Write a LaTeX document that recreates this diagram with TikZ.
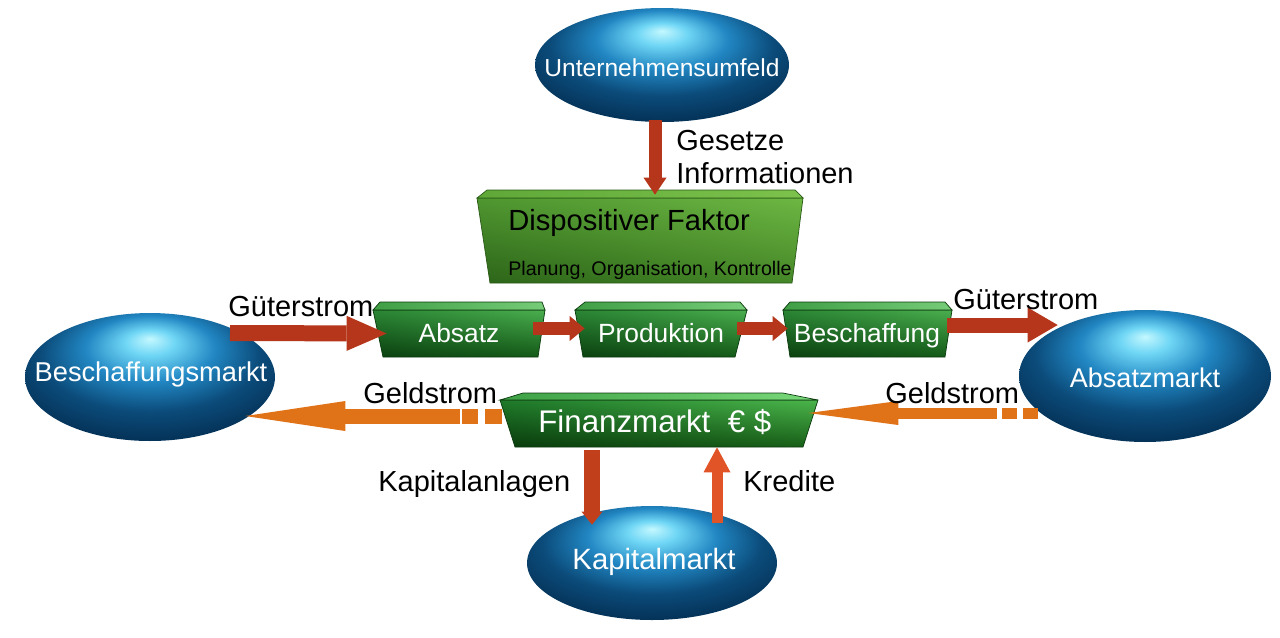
\documentclass[tikz,border=0pt]{standalone}
\usepackage{fontspec}
\setmainfont{Liberation Sans}
\usetikzlibrary{shapes.geometric,arrows.meta,calc,shadings}
\definecolor{hlA}{HTML}{C4F8FF}
\definecolor{hlB}{HTML}{6FD6F5}
\definecolor{hlC}{HTML}{2186C2}
\definecolor{hlD}{HTML}{0B4B7A}
\definecolor{navy}{HTML}{05345A}
\definecolor{dispTL}{HTML}{4F9630}
\definecolor{dispTR}{HTML}{6DB743}
\definecolor{dispBL}{HTML}{2C6418}
\definecolor{dispBR}{HTML}{468828}
\definecolor{dispTopL}{HTML}{5FA838}
\definecolor{dispTopR}{HTML}{7CC24C}
\definecolor{dispEdge}{HTML}{2A5A16}
\definecolor{sbTL}{HTML}{2A8534}
\definecolor{sbTR}{HTML}{4AAE4E}
\definecolor{sbBL}{HTML}{0B4010}
\definecolor{sbBR}{HTML}{145A18}
\definecolor{sbTopL}{HTML}{3F9E45}
\definecolor{sbTopR}{HTML}{76CC78}
\definecolor{sbEdge}{HTML}{0B3A0D}
\definecolor{finTL}{HTML}{1F7A2A}
\definecolor{finTR}{HTML}{4BB54B}
\definecolor{finBL}{HTML}{093A0C}
\definecolor{finBR}{HTML}{186018}
\definecolor{finTopL}{HTML}{3DA045}
\definecolor{finTopR}{HTML}{7AD97A}
\definecolor{redA}{HTML}{B5361A}
\definecolor{redB}{HTML}{C23F1C}
\definecolor{oraA}{HTML}{E07218}
\definecolor{oraB}{HTML}{E05427}
\pgfdeclareradialshading{ballhl}{\pgfpoint{0bp}{15bp}}{color(0bp)=(hlA); color(5bp)=(hlB); color(13bp)=(hlC); color(22bp)=(hlD); color(30bp)=(navy); color(50bp)=(navy)}
\tikzset{
  ell/.style={ellipse, draw=none, shade, shading=ballhl, inner sep=0pt},
  elltext/.style={text=white, font=\fontsize{#1}{18}\selectfont, anchor=base, inner sep=0pt},
  btext/.style={text=white, font=\fontsize{15}{17}\selectfont, anchor=base, inner sep=0pt},
  lbl/.style={font=\fontsize{16.5}{19}\selectfont, inner sep=0pt, anchor=base west},
  hold/.style={inner sep=0pt, draw=none},
  smallface/.style={upper left=sbTL, upper right=sbTR, lower left=sbBL, lower right=sbBR, draw=sbEdge, line width=0.4pt},
  smalltop/.style={left color=sbTopL, right color=sbTopR, draw=sbEdge, line width=0.4pt},
  blk/.style={line width=#1},
}
\begin{document}
\begin{tikzpicture}[x=0.02cm,y=-0.02cm]
\useasboundingbox (0,0) rectangle (1280,637);

% ellipses
\node[ell, minimum width=5.08cm, minimum height=2.28cm] (umf) at (662,65) {};
\node[ell, minimum width=5.0cm, minimum height=2.56cm] (bm) at (150,377) {};
\node[ell, minimum width=5.04cm, minimum height=2.64cm] (am) at (1145,376) {};
\node[ell, minimum width=5.0cm, minimum height=2.28cm] (km) at (652,563) {};

% Dispositiver Faktor box
\shade[upper left=dispTL, upper right=dispTR, lower left=dispBL, lower right=dispBR, draw=dispEdge, line width=0.4pt] (477,198) -- (803,198) -- (792,283) -- (490,283) -- cycle;
\shade[left color=dispTopL, right color=dispTopR, draw=dispEdge, line width=0.4pt] (487,190) -- (795,190) -- (803,198) -- (477,198) -- cycle;
\node[hold, minimum width=6.52cm, minimum height=1.86cm] (disp) at (640,236.5) {};

% small boxes
\shade[smallface] (373,310) -- (545,310) -- (538,357) -- (383,357) -- cycle;
\shade[smalltop] (380,302) -- (542,302) -- (545,310) -- (373,310) -- cycle;
\node[hold, minimum width=3.44cm, minimum height=1.1cm] (abs) at (459,333.5) {};
\shade[smallface] (575,310) -- (747,310) -- (735,357) -- (583,357) -- cycle;
\shade[smalltop] (585,302) -- (740,302) -- (747,310) -- (575,310) -- cycle;
\node[hold, minimum width=3.44cm, minimum height=1.1cm] (prod) at (661,333.5) {};
\shade[smallface] (783,310) -- (952,310) -- (945,357) -- (790,357) -- cycle;
\shade[smalltop] (790,302) -- (945,302) -- (952,310) -- (783,310) -- cycle;
\node[hold, minimum width=3.38cm, minimum height=1.1cm] (besch) at (867.5,333.5) {};

% Finanzmarkt box
\shade[upper left=finTL, upper right=finTR, lower left=finBL, lower right=finBR, draw=sbEdge, line width=0.4pt] (500,400) -- (818,400) -- (803,447) -- (515,447) -- cycle;
\shade[left color=finTopL, right color=finTopR, draw=sbEdge, line width=0.4pt] (523,393) -- (783,393) -- (818,400) -- (500,400) -- cycle;
\node[hold, minimum width=6.36cm, minimum height=1.08cm] (fin) at (659,420) {};

% arrows
\draw[redA, blk=0.26cm, -{Triangle[length=0.34cm,width=0.46cm,line width=0pt]}]
  ($(umf.south)+(-7,-2)$) -- ($(disp.north)+(15,5)$);
\draw[redA, blk=0.32cm, -{Triangle[length=0.8cm,width=0.7cm,line width=0pt]}]
  ($(bm.center)+(80,-44)$) -- ($(abs.west)+(14,0)$);
\draw[redA, blk=0.26cm, -{Triangle[length=0.3cm,width=0.5cm,line width=0pt]}]
  ($(abs.east)+(-12,-5)$) -- ($(prod.west)+(10,-5)$);
\draw[redA, blk=0.26cm, -{Triangle[length=0.3cm,width=0.5cm,line width=0pt]}]
  ($(prod.east)+(-10,-5)$) -- ($(besch.west)+(5,-5)$);
\draw[redA, blk=0.3cm, -{Triangle[length=0.6cm,width=0.7cm,line width=0pt]}]
  ($(besch.east)+(-5,-8.5)$) -- ($(am.west)+(39,-51)$);
\draw[oraA, blk=0.3cm, dash pattern=on 0.34cm off 0.14cm on 0.32cm off 0.04cm on 12cm,
  -{Triangle[length=2cm,width=0.6cm,line width=0pt]}]
  ($(fin.west)+(2,-4)$) -- ($(bm.east)+(-30,39)$);
\draw[oraA, blk=0.22cm, dash pattern=on 0.3cm off 0.12cm on 0.3cm off 0.1cm on 12cm,
  -{Triangle[length=1.8cm,width=0.48cm,line width=0pt]}]
  ($(am.west)+(19,37)$) -- ($(fin.east)+(-10,-7)$);
\draw[redB, blk=0.32cm, -{Triangle[length=0.26cm,width=0.42cm,line width=0pt]}]
  ($(fin.south)+(-67,3)$) -- ($(km.north)+(-60,19)$);
\draw[oraB, blk=0.22cm, -{Triangle[length=0.5cm,width=0.54cm,line width=0pt]}]
  ($(km.north)+(65,17)$) -- ($(fin.south)+(58,0)$);

% ellipse texts
\node[elltext=14] at (662,76) {Unternehmensumfeld};
\node[elltext=15.5] at (151,381) {Beschaffungsmarkt};
\node[elltext=15.4] at (1145,387) {Absatzmarkt};
\node[elltext=16.7] at (654,569) {Kapitalmarkt};

% box texts
\node[lbl, font=\fontsize{16.6}{19}\selectfont] at (508,230) {Dispositiver Faktor};
\node[lbl, font=\fontsize{11.2}{13}\selectfont] at (508,275) {Planung, Organisation, Kontrolle};
\node[btext] at (459,342) {Absatz};
\node[btext] at (661,342) {Produktion};
\node[btext] at (867,342) {Beschaffung};
\node[lbl, text=white, font=\fontsize{17.8}{20}\selectfont] at (538,432) {Finanzmarkt\ \ €\ \$};

% labels
\node[lbl] at (676,150) {Gesetze};
\node[lbl] at (676,183) {Informationen};
\node[lbl] at (228,316) {Güterstrom};
\node[lbl] at (953,309) {Güterstrom};
\node[lbl] at (363,403) {Geldstrom};
\node[lbl] at (885,403) {Geldstrom};
\node[lbl] at (378,491) {Kapitalanlagen};
\node[lbl] at (743,491) {Kredite};
\end{tikzpicture}
\end{document}
